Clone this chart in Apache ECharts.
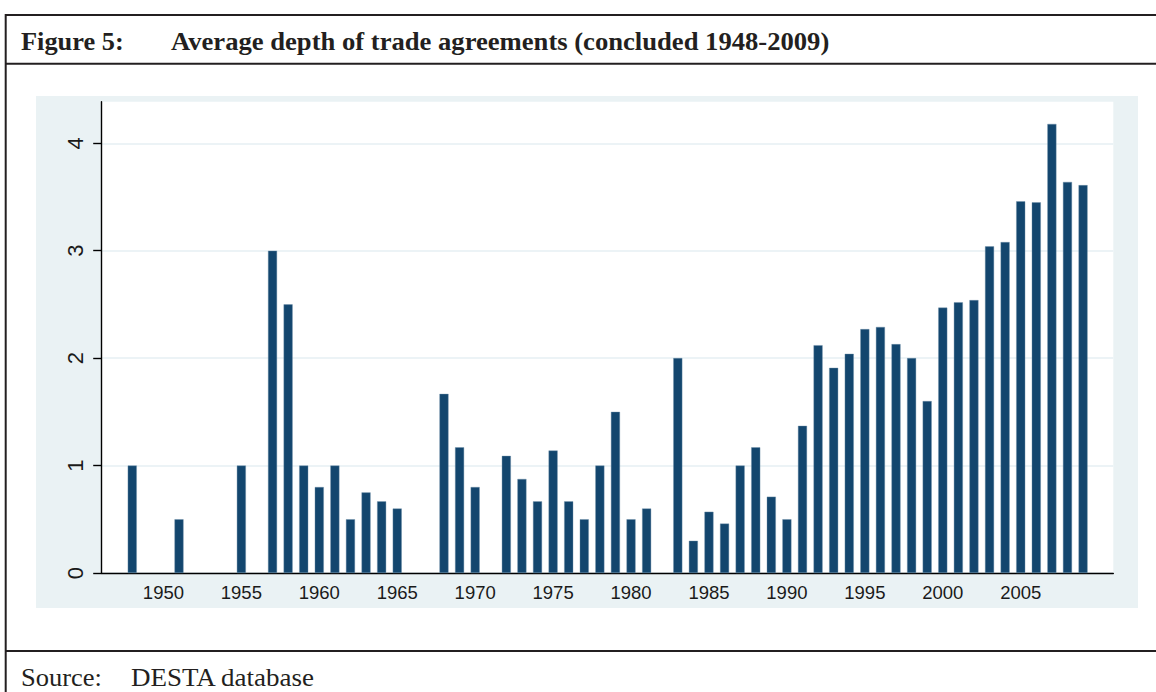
<!DOCTYPE html>
<html>
<head>
<meta charset="utf-8">
<script src="https://cdn.jsdelivr.net/npm/echarts@6/dist/echarts.min.js"></script>
<style>
  html, body { margin: 0; padding: 0; background: #ffffff; }
  #chart { width: 1156px; height: 692px; }
</style>
</head>
<body>
<div id="chart"></div>
<script>
// ---- Data ----
const titleLabel = "Figure 5:";
const titleText = "Average depth of trade agreements (concluded 1948-2009)";
const sourceLabel = "Source:";
const sourceText = "DESTA database";

const years = [
  1948, 1951, 1955, 1957, 1958, 1959, 1960, 1961, 1962, 1963, 1964, 1965,
  1968, 1969, 1970, 1972, 1973, 1974, 1975, 1976, 1977, 1978, 1979, 1980, 1981,
  1983, 1984, 1985, 1986, 1987, 1988, 1989, 1990, 1991, 1992, 1993, 1994, 1995,
  1996, 1997, 1998, 1999, 2000, 2001, 2002, 2003, 2004, 2005, 2006, 2007, 2008, 2009
];
const depth = [
  1.0, 0.5, 1.0, 3.0, 2.5, 1.0, 0.8, 1.0, 0.5, 0.75, 0.667, 0.6,
  1.667, 1.17, 0.8, 1.09, 0.875, 0.667, 1.14, 0.667, 0.5, 1.0, 1.5, 0.5, 0.6,
  2.0, 0.3, 0.57, 0.46, 1.0, 1.17, 0.71, 0.5, 1.37, 2.12, 1.91, 2.04, 2.27,
  2.29, 2.13, 2.0, 1.6, 2.47, 2.52, 2.54, 3.04, 3.08, 3.46, 3.45, 4.18, 3.64, 3.61
];
const xTickLabels = [1950, 1955, 1960, 1965, 1970, 1975, 1980, 1985, 1990, 1995, 2000, 2005];
const yTickLabels = [0, 1, 2, 3, 4];

// ---- Chart ----
const chart = echarts.init(document.getElementById('chart'), null, { renderer: 'svg' });
const lineColor = '#231f20';
const serif = '"Liberation Serif", "Times New Roman", serif';
const sans = '"Liberation Sans", Arial, sans-serif';

const option = {
  animation: false,
  backgroundColor: '#ffffff',
  grid: {
    left: 101.7, right: 42.7, top: 101.7, bottom: 119,
    show: true, backgroundColor: '#ffffff', borderWidth: 0
  },
  xAxis: {
    type: 'value',
    min: 1946.04, max: 2010.94,
    axisLine: { show: true, onZero: false, lineStyle: { color: '#000', width: 1.4 } },
    axisTick: { show: false },
    splitLine: { show: false },
    axisLabel: {
      customValues: xTickLabels,
      fontSize: 18.5, fontFamily: sans, color: '#1a1a1a', margin: 10,
      showMinLabel: true, showMaxLabel: true, hideOverlap: false,
      formatter: v => String(v)
    }
  },
  yAxis: {
    type: 'value',
    min: 0, max: 4.387,
    axisLine: { show: true, lineStyle: { color: '#000', width: 1.4 } },
    axisTick: { show: true, length: 8.5, customValues: yTickLabels, lineStyle: { color: '#000', width: 1.4 } },
    splitLine: { show: true, lineStyle: { color: '#e6eff3', width: 1.5 } },
    axisLabel: {
      customValues: yTickLabels,
      rotate: 90, fontSize: 22, fontFamily: sans, color: '#1a1a1a', margin: 15,
      formatter: v => String(v)
    }
  },
  series: [{
    type: 'bar',
    barWidth: 9,
    itemStyle: { color: '#13466e', borderColor: '#6e8fa8', borderWidth: 0.4 },
    data: years.map((y, i) => [y, depth[i]])
  }],
  graphic: [
    { type: 'rect', z: -10, silent: true, shape: { x: 36, y: 96, width: 1102, height: 512 }, style: { fill: '#eaf2f4' } },
    { type: 'line', silent: true, shape: { x1: 5, y1: 15, x2: 1156, y2: 15 }, style: { stroke: lineColor, lineWidth: 2 } },
    { type: 'line', silent: true, shape: { x1: 5, y1: 63.7, x2: 1156, y2: 63.7 }, style: { stroke: lineColor, lineWidth: 2 } },
    { type: 'line', silent: true, shape: { x1: 5, y1: 651, x2: 1156, y2: 651 }, style: { stroke: lineColor, lineWidth: 2 } },
    { type: 'line', silent: true, shape: { x1: 5.7, y1: 14, x2: 5.7, y2: 692 }, style: { stroke: lineColor, lineWidth: 2 } },
    { type: 'text', silent: true, x: 21, y: 41.5, scaleX: 1.054,
      style: { text: titleLabel, font: 'bold 25px ' + serif, fill: '#231f20', verticalAlign: 'middle' } },
    { type: 'text', silent: true, x: 171, y: 41.5, scaleX: 1.065,
      style: { text: titleText, font: 'bold 25px ' + serif, fill: '#231f20', verticalAlign: 'middle' } },
    { type: 'text', silent: true, x: 21, y: 678, scaleX: 1.06,
      style: { text: sourceLabel, font: '25px ' + serif, fill: '#231f20', verticalAlign: 'middle' } },
    { type: 'text', silent: true, x: 131, y: 678, scaleX: 1.08,
      style: { text: sourceText, font: '25px ' + serif, fill: '#231f20', verticalAlign: 'middle' } }
  ]
};
chart.setOption(option);
</script>
</body>
</html>
